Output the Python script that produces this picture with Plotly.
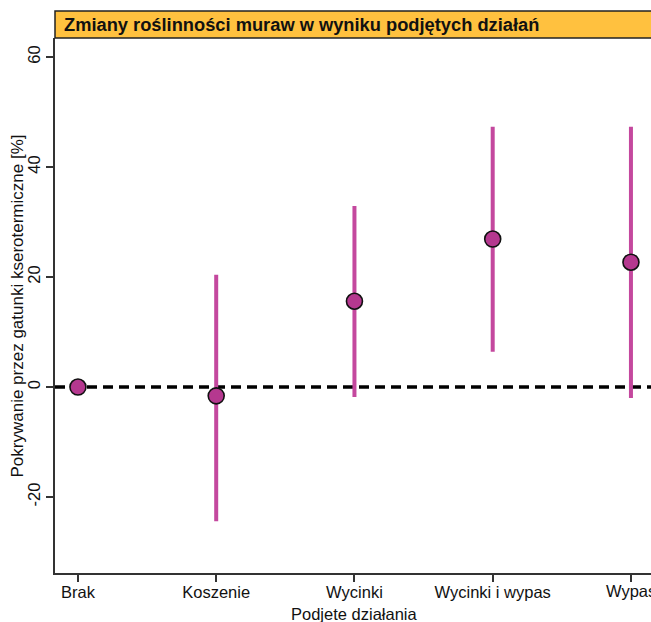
import plotly.graph_objects as go

categories = ["Brak", "Koszenie", "Wycinki", "Wycinki i wypas", "Wypas"]
means = [0.0, -1.6, 15.6, 26.9, 22.7]
ci_low = [0.0, -24.4, -1.8, 6.4, -2.0]
ci_high = [0.0, 20.4, 32.9, 47.3, 47.3]
y_ticks = [-20, 0, 20, 40, 60]

x_idx = list(range(len(categories)))
err_plus = [h - m for h, m in zip(ci_high, means)]
err_minus = [m - l for m, l in zip(means, ci_low)]

fig = go.Figure()
fig.add_trace(go.Scatter(
    x=x_idx, y=means, mode="markers",
    marker=dict(size=16, color="#B5388F", line=dict(color="#111111", width=1.6)),
    error_y=dict(type="data", symmetric=False, array=err_plus, arrayminus=err_minus,
                 thickness=4, width=0, color="#C4489E"),
    showlegend=False, cliponaxis=False, hoverinfo="skip",
))

fig.add_shape(type="line", xref="paper", yref="y", x0=0, x1=1, y0=0, y1=0,
              line=dict(color="black", width=3.5, dash="10px,6px"), layer="below")

# header bar
fig.add_shape(type="rect", xref="paper", yref="paper", x0=0, x1=1.01, y0=1.0, y1=1.0505,
              fillcolor="#FFC13F", line=dict(color="#222222", width=1.5))
fig.add_annotation(xref="paper", yref="paper", x=0.012, y=1.0253, xanchor="left", yanchor="middle",
                   text="<b>Zmiany roślinności muraw w wyniku podjętych działań</b>",
                   showarrow=False,
                   font=dict(family="Liberation Sans Narrow, Liberation Sans, Arial", size=18.3, color="#111111"))

# last category label (cut by the right edge in the original)
fig.add_annotation(xref="x", yref="paper", x=x_idx[-1], y=0, yshift=-7, xanchor="center", yanchor="top",
                   text=categories[-1], showarrow=False,
                   font=dict(family="Liberation Sans, Arial", size=16.5, color="#111111"))

# axis titles
fig.add_annotation(xref="paper", yref="paper", x=-0.0621, y=0.5, xanchor="center", yanchor="middle",
                   text="Pokrywanie przez gatunki kserotermiczne [%]", textangle=-90, showarrow=False,
                   font=dict(family="Liberation Sans, Arial", size=17, color="#111111"))
fig.add_annotation(xref="x", yref="paper", x=2, y=-0.0766, xanchor="center", yanchor="middle",
                   text="Podjete działania", showarrow=False,
                   font=dict(family="Liberation Sans, Arial", size=16.5, color="#111111"))

fig.update_layout(
    width=651, height=622,
    margin=dict(l=55, r=0, t=38, b=49, autoexpand=False),
    paper_bgcolor="white", plot_bgcolor="white",
    font=dict(family="Liberation Sans, Arial", size=16.5, color="#111111"),
    hovermode=False,
)
fig.update_xaxes(
    range=[-0.166, 4.145], tickmode="array", tickvals=x_idx, ticktext=categories,
    showgrid=False, zeroline=False, showline=True, linecolor="#333333", linewidth=1.5,
    ticks="outside", ticklen=7, tickwidth=1.5, tickcolor="#333333",
    ticklabelstandoff=-4, automargin=False,
)
fig.update_yaxes(
    range=[-33.8, 63.45], tickmode="array", tickvals=y_ticks, ticktext=[str(v) for v in y_ticks],
    tickangle=-90, showgrid=False, zeroline=False, showline=True, linecolor="#333333", linewidth=1.5,
    ticks="outside", ticklen=7, tickwidth=1.5, tickcolor="#333333", automargin=False,
)

fig.write_html("out.html", config={"displayModeBar": False},
               post_script="document.body.style.margin='0';document.body.style.overflow='hidden';")
